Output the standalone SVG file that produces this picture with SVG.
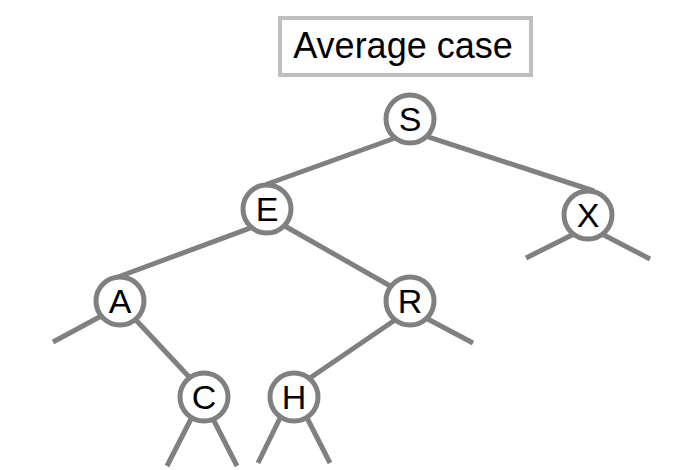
<svg xmlns="http://www.w3.org/2000/svg" width="681" height="470" viewBox="0 0 681 470">
<style>
.e{stroke:#808080;stroke-width:5;fill:none}
.n circle{fill:#fff;stroke:#808080;stroke-width:5}
.n text{font-family:"Liberation Sans",Arial,sans-serif;font-size:34px;fill:#000;text-anchor:middle}
</style>
<rect width="681" height="470" fill="#fff"/>
<g id="title">
<rect x="280" y="18" width="251" height="57" fill="#fff" stroke="#bfbfbf" stroke-width="4"/>
<text x="403" y="58" font-family="Liberation Sans,Arial,sans-serif" font-size="36" text-anchor="middle">Average case</text>
</g>
<g id="connectors">
<line class="e" x1="398" y1="137" x2="266" y2="184.5"/>
<line class="e" x1="425" y1="135.8" x2="594" y2="191"/>
<line class="e" x1="576" y1="233" x2="526" y2="258"/>
<line class="e" x1="600" y1="233" x2="650" y2="259"/>
<line class="e" x1="254" y1="226.6" x2="118" y2="277"/>
<line class="e" x1="283" y1="225" x2="392" y2="287"/>
<line class="e" x1="105" y1="314" x2="53" y2="342"/>
<line class="e" x1="135" y1="319" x2="191" y2="379"/>
<line class="e" x1="422" y1="316" x2="473" y2="343"/>
<line class="e" x1="395" y1="320" x2="310" y2="378"/>
<line class="e" x1="193" y1="415" x2="167" y2="466"/>
<line class="e" x1="211" y1="415" x2="237" y2="466"/>
<line class="e" x1="283" y1="412" x2="258" y2="463"/>
<line class="e" x1="304" y1="412" x2="330" y2="463"/>
</g>
<g id="S" class="n"><circle cx="410" cy="119" r="24"/><text x="410" y="131">S</text></g>
<g id="E" class="n"><circle cx="267" cy="209" r="24"/><text x="267" y="221">E</text></g>
<g id="X" class="n"><circle cx="588" cy="215" r="24"/><text x="588" y="227">X</text></g>
<g id="A" class="n"><circle cx="120" cy="301" r="24"/><text x="120" y="313">A</text></g>
<g id="R" class="n"><circle cx="410" cy="301" r="24"/><text x="410" y="313">R</text></g>
<g id="C" class="n"><circle cx="204" cy="397" r="24"/><text x="204" y="409">C</text></g>
<g id="H" class="n"><circle cx="294" cy="397" r="24"/><text x="294" y="409">H</text></g>
</svg>
